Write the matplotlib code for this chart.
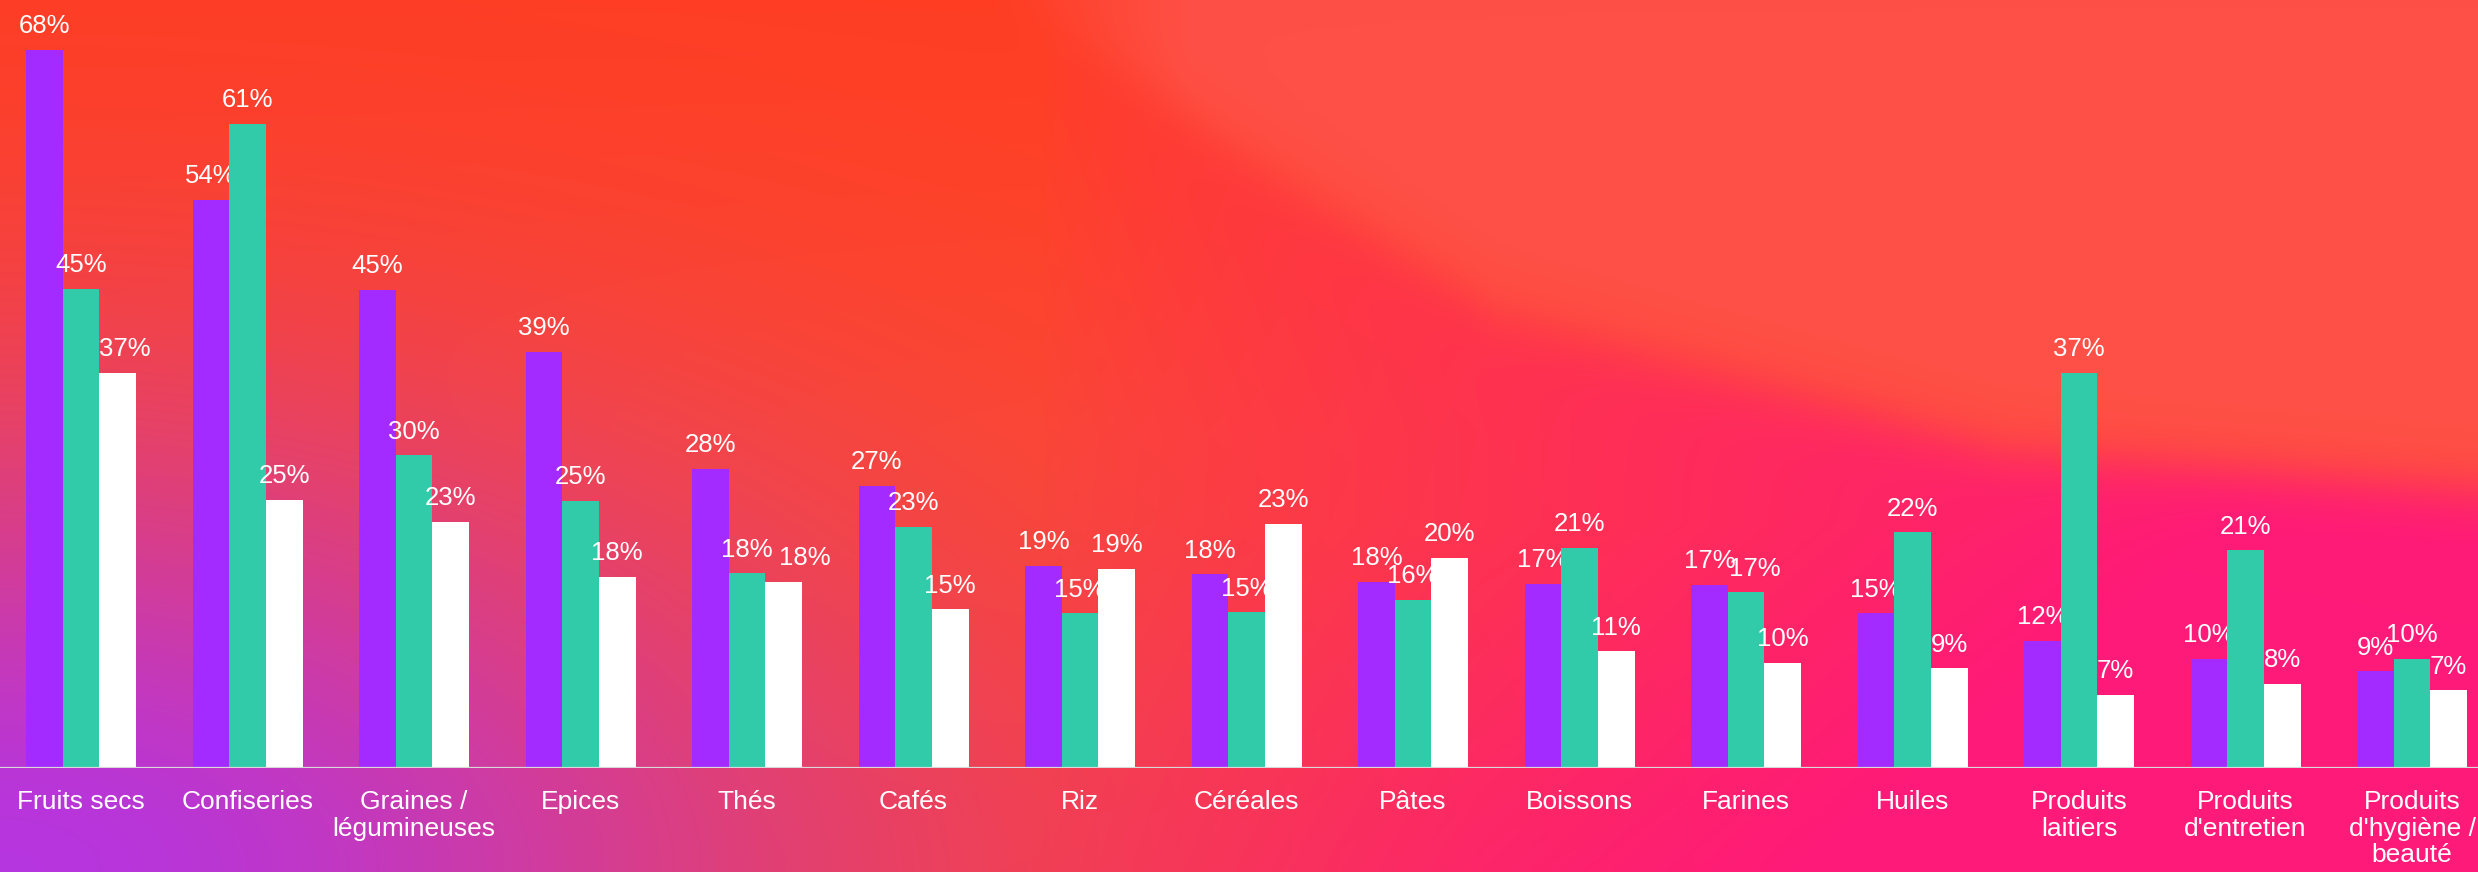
import numpy as np
import matplotlib.pyplot as plt

plt.rcParams["font.family"] = ["Liberation Sans", "DejaVu Sans"]

categories = [
    "Fruits secs", "Confiseries", "Graines /\nlégumineuses", "Epices", "Thés",
    "Cafés", "Riz", "Céréales", "Pâtes", "Boissons", "Farines", "Huiles",
    "Produits\nlaitiers", "Produits\nd'entretien", "Produits\nd'hygiène /\nbeauté",
]
serie_violet = [68.0, 53.8, 45.3, 39.4, 28.3, 26.7, 19.1, 18.3, 17.6, 17.4, 17.3, 14.6, 12.0, 10.3, 9.1]
serie_vert = [45.4, 61.0, 29.6, 25.3, 18.4, 22.8, 14.6, 14.7, 15.9, 20.8, 16.6, 22.3, 37.4, 20.6, 10.3]
serie_blanc = [37.4, 25.4, 23.3, 18.1, 17.6, 15.0, 18.8, 23.1, 19.9, 11.0, 9.9, 9.4, 6.9, 7.9, 7.3]

COLORS = ["#A32BFF", "#32CBA9", "#FFFFFF"]
# labels pushed sideways in the original to dodge a neighbour (series, category): points
LABEL_NUDGE = {(2, 0): 5, (2, 4): 15, (1, 10): 6}
W, H = 2478, 872


def background():
    # decorative gradient behind the chart
    u = np.linspace(0, 1, W // 2)[None, :]
    v = np.linspace(0, 1, H // 2)[:, None]
    base = np.array([255, 72, 42]) / 255
    img = np.ones((H // 2, W // 2, 3)) * base
    top = np.array([255, 55, 30]) / 255
    wt = np.clip(1 - v / 0.5, 0, 1)[..., None] * np.ones_like(u)[..., None]
    img = img * (1 - 0.6 * wt) + top * 0.6 * wt

    cu = np.array([0.40, 0.50, 0.605, 0.81, 1.0])
    cv = np.array([-0.02, 0.17, 0.35, 0.505, 0.55])
    vc = np.interp(u, cu, cv)
    above = 1 / (1 + np.exp((v - vc) / 0.02))
    above = above * (u > 0.40)
    pink = np.array([255, 26, 120]) / 255
    wp = np.clip((u - 0.42) / 0.48, 0, 1) ** 0.8 * (1 - above)
    wp = np.clip(wp + 0.3 * np.clip((v - 0.6) / 0.4, 0, 1) * np.clip((u - 0.3) / 0.3, 0, 1), 0, 1)
    img = img * (1 - wp[..., None]) + pink * wp[..., None]

    coral = np.array([255, 82, 74]) / 255
    wc = above * np.clip((u - 0.40) / 0.08, 0, 1) * 0.9
    img = img * (1 - wc[..., None]) + coral * wc[..., None]

    purple = np.array([178, 52, 232]) / 255
    wq = np.exp(-((u / 0.33) ** 2 + ((1 - v) / 0.5) ** 2)) * 0.95
    img = img * (1 - wq[..., None]) + purple * wq[..., None]
    return np.clip(img, 0, 1)


fig = plt.figure(figsize=(W / 100, H / 100), dpi=100)
bg = fig.add_axes([0, 0, 1, 1], zorder=0)
bg.imshow(background(), aspect="auto", extent=[0, 1, 0, 1], interpolation="bilinear")
bg.axis("off")

base_px = 767.5
ax = fig.add_axes([0, (H - base_px) / H, 1, base_px / H], zorder=1)
ax.patch.set_alpha(0)

x = np.arange(len(categories))
width = 0.22
for k, (vals, color) in enumerate(zip([serie_violet, serie_vert, serie_blanc], COLORS)):
    # each series' bars sit over the previous series' labels, as in the original
    bars = ax.bar(x + (k - 1) * width, vals, width=width, color=color, linewidth=0, zorder=2 + 2 * k)
    for i, (b, val) in enumerate(zip(bars, vals)):
        ax.annotate(f"{round(val)}%", (b.get_x() + b.get_width() / 2, val),
                    xytext=(LABEL_NUDGE.get((k, i), 0), 12), textcoords="offset points",
                    ha="center", va="baseline", color="white", fontsize=18.5, zorder=3 + 2 * k)

ax.axhline(0, color="#D8D8D8", linewidth=1.6, zorder=9)
ax.set_xlim(-0.487, 14.396)
ax.set_ylim(0, 72.75)
ax.set_xticks(x)
ax.set_xticklabels(categories, fontsize=19, color="white", linespacing=1.15)
ax.tick_params(axis="x", length=0, pad=16)
ax.set_yticks([])
for s in ax.spines.values():
    s.set_visible(False)

fig.savefig("out.png", dpi=100)
